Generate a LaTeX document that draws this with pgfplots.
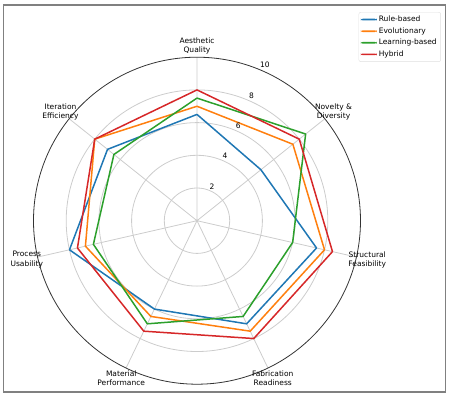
\documentclass[border=0pt]{standalone}
\usepackage{fontspec}
\setmainfont{DejaVu Sans}
\usepackage{pgfplots}
\pgfplotsset{compat=1.18}
\usepgfplotslibrary{polar}
\definecolor{mplblue}{HTML}{1F77B4}
\definecolor{mplorange}{HTML}{FF7F0E}
\definecolor{mplgreen}{HTML}{2CA02C}
\definecolor{mplred}{HTML}{D62728}
\begin{document}
\begin{tikzpicture}[font=\fontsize{7.5bp}{9.2bp}\selectfont]
\useasboundingbox (-197bp,-173.3bp) rectangle (253bp,220.7bp);
\draw[gray, line width=1.3bp] (-193.7bp,-171.3bp) rectangle (248.7bp,215.7bp);
\begin{polaraxis}[
  at={(0,0)}, anchor=center,
  width=327bp, scale only axis,
  ymin=0, ymax=10,
  xtick={90,38.571,347.143,295.714,244.286,192.857,141.429},
  ytick={2,4,6,8},
  xticklabels={}, yticklabels={},
  major tick length=0pt,
  grid=major,
  major grid style={color=gray!40, line width=0.8bp},
  x axis line style={black!80, line width=0.8bp},
  y axis line style={draw=none},
  clip=false,
  legend style={at={(axis cs:40.54,19.63)}, anchor=north east, draw=gray!25, fill=white, rounded corners=2bp,
    font=\fontsize{7.5bp}{9.2bp}\selectfont, inner xsep=2bp, inner ysep=1.5bp,
    nodes={inner ysep=2.2bp}},
  legend cell align=left,
  legend image code/.code={\fill[#1, draw=none] (0bp,-0.85bp) rectangle (16bp,0.85bp);},
]
\addplot[mplblue, line width=1.5bp, line join=round] coordinates {(90,6.5) (38.571,5.0) (347.143,7.5) (295.714,7.0) (244.286,6.0) (192.857,8.0) (141.429,7.0) (90,6.5)};
\addlegendentry{Rule-based}
\addplot[mplorange, line width=1.5bp, line join=round] coordinates {(90,7.0) (38.571,7.5) (347.143,8.0) (295.714,7.5) (244.286,6.5) (192.857,7.0) (141.429,8.0) (90,7.0)};
\addlegendentry{Evolutionary}
\addplot[mplgreen, line width=1.5bp, line join=round] coordinates {(90,7.5) (38.571,8.5) (347.143,6.0) (295.714,6.5) (244.286,7.0) (192.857,6.5) (141.429,6.5) (90,7.5)};
\addlegendentry{Learning-based}
\addplot[mplred, line width=1.5bp, line join=round] coordinates {(90,8.0) (38.571,8.0) (347.143,8.5) (295.714,8.0) (244.286,7.5) (192.857,7.5) (141.429,8.0) (90,8.0)};
\addlegendentry{Hybrid}
\node[align=center] at (axis cs:90,10.68) {Aesthetic\\Quality};
\node[align=center] at (axis cs:38.571,10.68) {Novelty \&\\Diversity};
\node[align=center] at (axis cs:347.143,10.68) {Structural\\Feasibility};
\node[align=center] at (axis cs:295.714,10.68) {Fabrication\\Readiness};
\node[align=center] at (axis cs:244.286,10.68) {Material\\Performance};
\node[align=center] at (axis cs:192.857,10.68) {Process\\Usability};
\node[align=center] at (axis cs:141.429,10.68) {Iteration\\Efficiency};
\node at (axis cs:66.5,2.3) {2};
\node at (axis cs:66.5,4.3) {4};
\node at (axis cs:66.5,6.33) {6};
\node at (axis cs:66.5,8.35) {8};
\node at (axis cs:66.5,10.4) {10};
\end{polaraxis}
\end{tikzpicture}
\end{document}
